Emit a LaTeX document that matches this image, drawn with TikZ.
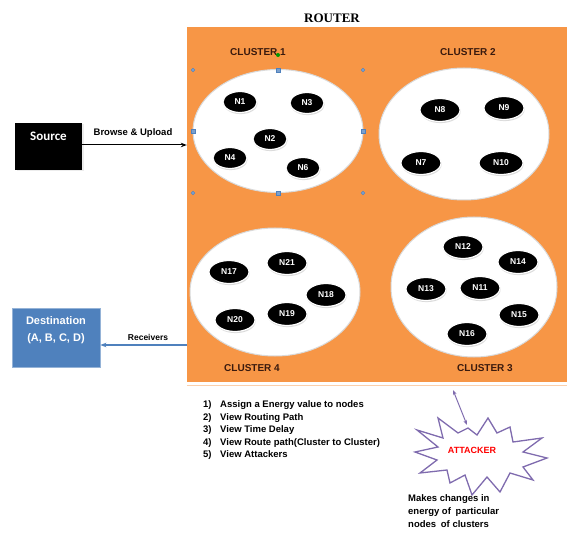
\documentclass[tikz,border=0pt]{standalone}
\usepackage{fontspec}
\setmainfont{Liberation Sans}
\newfontfamily\routerfont{Liberation Serif}
\newfontfamily\calibrifont{Carlito}
\usepackage{xcolor}
\usepackage{tikz}
\usetikzlibrary{shapes.geometric,shadows,arrows.meta}

\definecolor{routerorange}{HTML}{F79646}
\definecolor{officeblue}{HTML}{4F81BD}
\definecolor{burstpurple}{HTML}{7F6BAE}
\definecolor{clusterink}{HTML}{3A1A0E}

\tikzset{
  sensor/.style={ellipse, fill=black, draw=white, line width=1.2pt, text=white,
    inner sep=0pt, minimum width=40pt, minimum height=23pt,
    font=\fontsize{8.5}{8.5}\selectfont\bfseries,
    drop shadow={shadow xshift=0.6pt, shadow yshift=-1.6pt, fill=gray!55}},
  smallsensor/.style={sensor, minimum width=34pt, minimum height=21pt},
  cluster/.style={ellipse, fill=white, draw=gray!30, line width=1pt, inner sep=0pt},
  clusterlabel/.style={font=\fontsize{10}{10}\selectfont\bfseries, text=clusterink},
  handle/.style={fill=officeblue!75, draw=officeblue, line width=0.3pt, inner sep=0pt, minimum size=4pt},
  cornerhandle/.style={handle, circle, minimum size=3.6pt},
  smalltext/.style={font=\fontsize{9.5}{12.5}\selectfont\bfseries},
}

\begin{document}
\begin{tikzpicture}[x=1pt, y=-1pt]
    \useasboundingbox (0,0) rectangle (570,537);

    % router area
    \node[fill=routerorange, minimum width=380pt, minimum height=355pt, inner sep=0pt] (router) at (377,204.5) {};
    \draw[routerorange!45, line width=1pt] (187,385) -- (567,385);
    \node[font=\routerfont\fontsize{13}{13}\selectfont\bfseries] (routertitle) at (332,18) {ROUTER};

    \node[cluster, minimum width=170pt, minimum height=123pt] (c1) at (278,131) {};
    \node[cluster, minimum width=170pt, minimum height=132pt] (c2) at (464,134) {};
    \node[cluster, minimum width=170pt, minimum height=128pt] (c4) at (275,292) {};
    \node[cluster, minimum width=166pt, minimum height=140pt] (c3) at (474,287) {};

    \node[clusterlabel] (lc1) at (258,52) {CLUSTER 1};
    \node[clusterlabel] (lc2) at (468,52) {CLUSTER 2};
    \node[clusterlabel] (lc4) at (252,368) {CLUSTER 4};
    \node[clusterlabel] (lc3) at (485,368) {CLUSTER 3};

    % selection handles on cluster 1
    \foreach \hx/\hy in {278/70, 193/131, 363/131, 278/193}
        \node[handle] at (\hx,\hy) {};
    \foreach \hx/\hy in {193/70, 363/70, 193/193, 363/193}
        \node[cornerhandle] at (\hx,\hy) {};
    \node[circle, fill=green!60!black, inner sep=0pt, minimum size=4pt] (rot) at (278,55) {};

    % cluster 1
    \node[smallsensor] (n1) at (240,102) {N1};
    \node[smallsensor] (n3) at (307,103) {N3};
    \node[smallsensor] (n2) at (270,139) {N2};
    \node[smallsensor] (n4) at (230,158) {N4};
    \node[smallsensor] (n6) at (303,168) {N6};

    % cluster 2
    \node[sensor] (n8) at (440,110) {N8};
    \node[sensor] (n9) at (504,108) {N9};
    \node[sensor] (n7) at (421,163) {N7};
    \node[sensor, minimum width=44pt] (n10) at (501,163) {N10};

    % cluster 4
    \node[sensor] (n17) at (229,272) {N17};
    \node[sensor] (n21) at (287,263) {N21};
    \node[sensor] (n18) at (326,295) {N18};
    \node[sensor] (n19) at (287,314) {N19};
    \node[sensor] (n20) at (235,320) {N20};

    % cluster 3
    \node[sensor] (n12) at (463,247) {N12};
    \node[sensor] (n14) at (518,262) {N14};
    \node[sensor] (n13) at (426,289) {N13};
    \node[sensor] (n11) at (480,288) {N11};
    \node[sensor] (n15) at (519,315) {N15};
    \node[sensor] (n16) at (467,334) {N16};

    % source and destination
    \node[fill=black, minimum width=67pt, minimum height=47pt, inner sep=0pt,
          drop shadow={shadow xshift=1.5pt, shadow yshift=-1.5pt, fill=gray!30}] (src) at (48.5,146.5) {};
    \node[font=\calibrifont\fontsize{13}{13}\selectfont\bfseries, text=white] (srctext) at (48.5,136) {Source};
    \draw[-{Stealth[length=6pt]}, line width=1pt] (src.east |- 0,145) coordinate (upl) -- (upl -| router.west);
    \node[smalltext] (browse) at (133,133) {Browse \& Upload};

    \node[fill=officeblue, draw=officeblue!60, line width=0.8pt, minimum width=88pt, minimum height=59pt, inner sep=0pt] (dst) at (56,337.5) {};
    \node[font=\fontsize{11}{17}\selectfont\bfseries, text=white, align=center] (dsttext) at (56,330) {Destination\\(A, B, C, D)};
    \coordinate (rcv) at (187,345);
    \draw[-{Stealth[length=6pt]}, officeblue, line width=1.2pt] (rcv) -- (rcv -| dst.east);
    \node[font=\fontsize{8.5}{8.5}\selectfont\bfseries] (receivers) at (148,337) {Receivers};

    % options list
    \node[smalltext, anchor=base west, inner sep=0pt] (options) at (203,407.5) {%
        \begin{tabular}[t]{@{}p{17pt}@{}l@{}}
        1) & Assign a Energy value to nodes\\
        2) & View Routing Path\\
        3) & View Time Delay\\
        4) & View Route path(Cluster to Cluster)\\
        5) & View Attackers
        \end{tabular}};

    % attacker
    \draw[burstpurple, line width=1.3pt, line join=miter]
        (417,430) -- (443,438) -- (438,418) -- (458,433) -- (468,428) -- (477,435)
        -- (488,418) -- (497,433) -- (510,427) -- (513,442) -- (542,438) -- (523,452)
        -- (547,458) -- (523,467) -- (533,480) -- (510,473) -- (500,492) -- (487,477)
        -- (472,495) -- (465,475) -- (450,483) -- (447,470) -- (420,473) -- (437,460)
        -- (415,452) -- (438,447) -- cycle;
    \node[font=\fontsize{9}{9}\selectfont\bfseries, text=red] (attacker) at (472,450) {ATTACKER};
    \coordinate (hit) at (453,390);
    \coordinate (burst) at (467,425);
    \draw[{Stealth[length=5pt]}-{Stealth[length=5pt]}, burstpurple, line width=1pt] (hit) -- (burst);
    \node[font=\fontsize{9.5}{13}\selectfont\bfseries, anchor=base west, align=left, inner sep=0pt] (effect) at (408,527.5)
        {Makes changes in\\energy of\enspace particular\\nodes\enspace of clusters};
\end{tikzpicture}
\end{document}
